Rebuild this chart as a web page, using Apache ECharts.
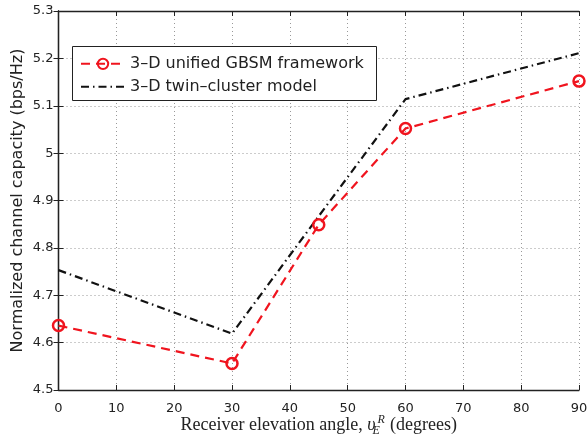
<!DOCTYPE html>
<html>
<head>
	<title>echarts</title>
	<script type="text/javascript" src="https://cdn.jsdelivr.net/npm/echarts@6/dist/echarts.min.js"></script>
	<style>body{margin:0;background:#fff;}</style>
</head>
<body>
	<div id="mychar" style="width: 588px;height:436px;"></div>

	<script type="text/javascript">
		// angles (degrees) and capacities
		var angles = [0, 30, 45, 60, 90];
		var unifiedGBSM = [4.636, 4.556, 4.849, 5.052, 5.152];
		var twinCluster = [4.753, 4.619, 4.867, 5.114, 5.211];
		var seriesNames = ['3\u2013D unified GBSM framework', '3\u2013D twin\u2013cluster model'];

		function pairs(ys) {
			var d = [];
			for (var i = 0; i < angles.length; i++) d.push([angles[i], ys[i]]);
			return d;
		}

		var frame = {show: true, lineStyle: {color: '#222', width: 1.3}};
		var ticksIn = {show: true, inside: true, length: 5, lineStyle: {color: '#222'}};
		var dotted = {show: true, lineStyle: {color: '#999', type: [1, 3], width: 1}};
		var tickFont = {color: '#222', fontFamily: 'DejaVu Sans', fontSize: 13};
		var serif = 'Liberation Serif';

		function legendRow(item, top) {
			return {
				left: 80, top: top, padding: 0, z: 20,
				itemWidth: 44, itemHeight: 13,
				textStyle: {fontFamily: 'DejaVu Sans', fontSize: 16, color: '#222'},
				data: [item]
			};
		}

		var mychar = echarts.init(document.getElementById("mychar"));
		var option = {
			animation: false,
			grid: {left: 58.5, right: 9, top: 11, bottom: 46, outerBoundsMode: 'none', containLabel: false},
			graphic: [{
				type: 'rect', z: 15,
				shape: {x: 72.5, y: 46.5, width: 304, height: 54},
				style: {fill: '#fff', stroke: '#222', lineWidth: 1}
			}],
			legend: [
				legendRow(seriesNames[0], 48),
				legendRow({name: seriesNames[1], itemStyle: {opacity: 0}}, 71)
			],
			xAxis: [{
				type: 'value', min: 0, max: 90, interval: 10,
				axisLine: frame, axisTick: ticksIn, splitLine: dotted,
				axisLabel: Object.assign({margin: 6}, tickFont),
				name: '{a|Receiver elevation angle, }{v|\u03c5}{e|E}{r|R}{a| (degrees)}',
				nameLocation: 'middle', nameGap: 20, nameMoveOverlap: false,
				nameTextStyle: {
					fontFamily: serif, fontSize: 18, color: '#222',
					rich: {
						a: {fontFamily: serif, fontSize: 18, color: '#222', verticalAlign: 'middle'},
						v: {fontFamily: serif, fontSize: 18, fontStyle: 'italic', color: '#222', verticalAlign: 'middle'},
						e: {fontFamily: serif, fontSize: 12, fontStyle: 'italic', color: '#222', width: 1, align: 'left', padding: [10, 0, 0, 0]},
						r: {fontFamily: serif, fontSize: 12, fontStyle: 'italic', color: '#222', width: 9, align: 'left', padding: [0, 0, 12, 0]}
					}
				}
			}, {
				type: 'value', min: 0, max: 90, interval: 10, position: 'top',
				axisLine: frame, axisTick: ticksIn, axisLabel: {show: false}, splitLine: {show: false}
			}],
			yAxis: [{
				type: 'value', min: 4.5, max: 5.3, interval: 0.1,
				axisLine: frame, axisTick: ticksIn, splitLine: dotted,
				axisLabel: Object.assign({margin: 5, formatter: function (v) {
					return String(Math.round(v * 10) / 10);
				}}, tickFont),
				name: 'Normalized channel capacity (bps/Hz)',
				nameLocation: 'middle', nameGap: 25, nameMoveOverlap: false,
				nameTextStyle: {fontFamily: 'DejaVu Sans', fontSize: 16, color: '#222'}
			}, {
				type: 'value', min: 4.5, max: 5.3, interval: 0.1, position: 'right',
				axisLine: frame, axisTick: ticksIn, axisLabel: {show: false}, splitLine: {show: false}
			}],
			series: [{
				name: seriesNames[0],
				type: 'line',
				data: pairs(unifiedGBSM),
				symbol: 'circle', symbolSize: 11, showAllSymbol: true,
				lineStyle: {color: '#f0141e', width: 2.2, type: [9, 6]},
				itemStyle: {color: 'rgba(255,255,255,0)', borderColor: '#f0141e', borderWidth: 2.5},
				z: 3
			}, {
				name: seriesNames[1],
				type: 'line',
				data: pairs(twinCluster),
				symbol: 'none',
				lineStyle: {color: '#111', width: 2.2, type: [8, 4, 1.5, 4]},
				itemStyle: {color: '#111'},
				z: 2
			}]
		};

		mychar.setOption(option);
	</script>
</body>
</html>
